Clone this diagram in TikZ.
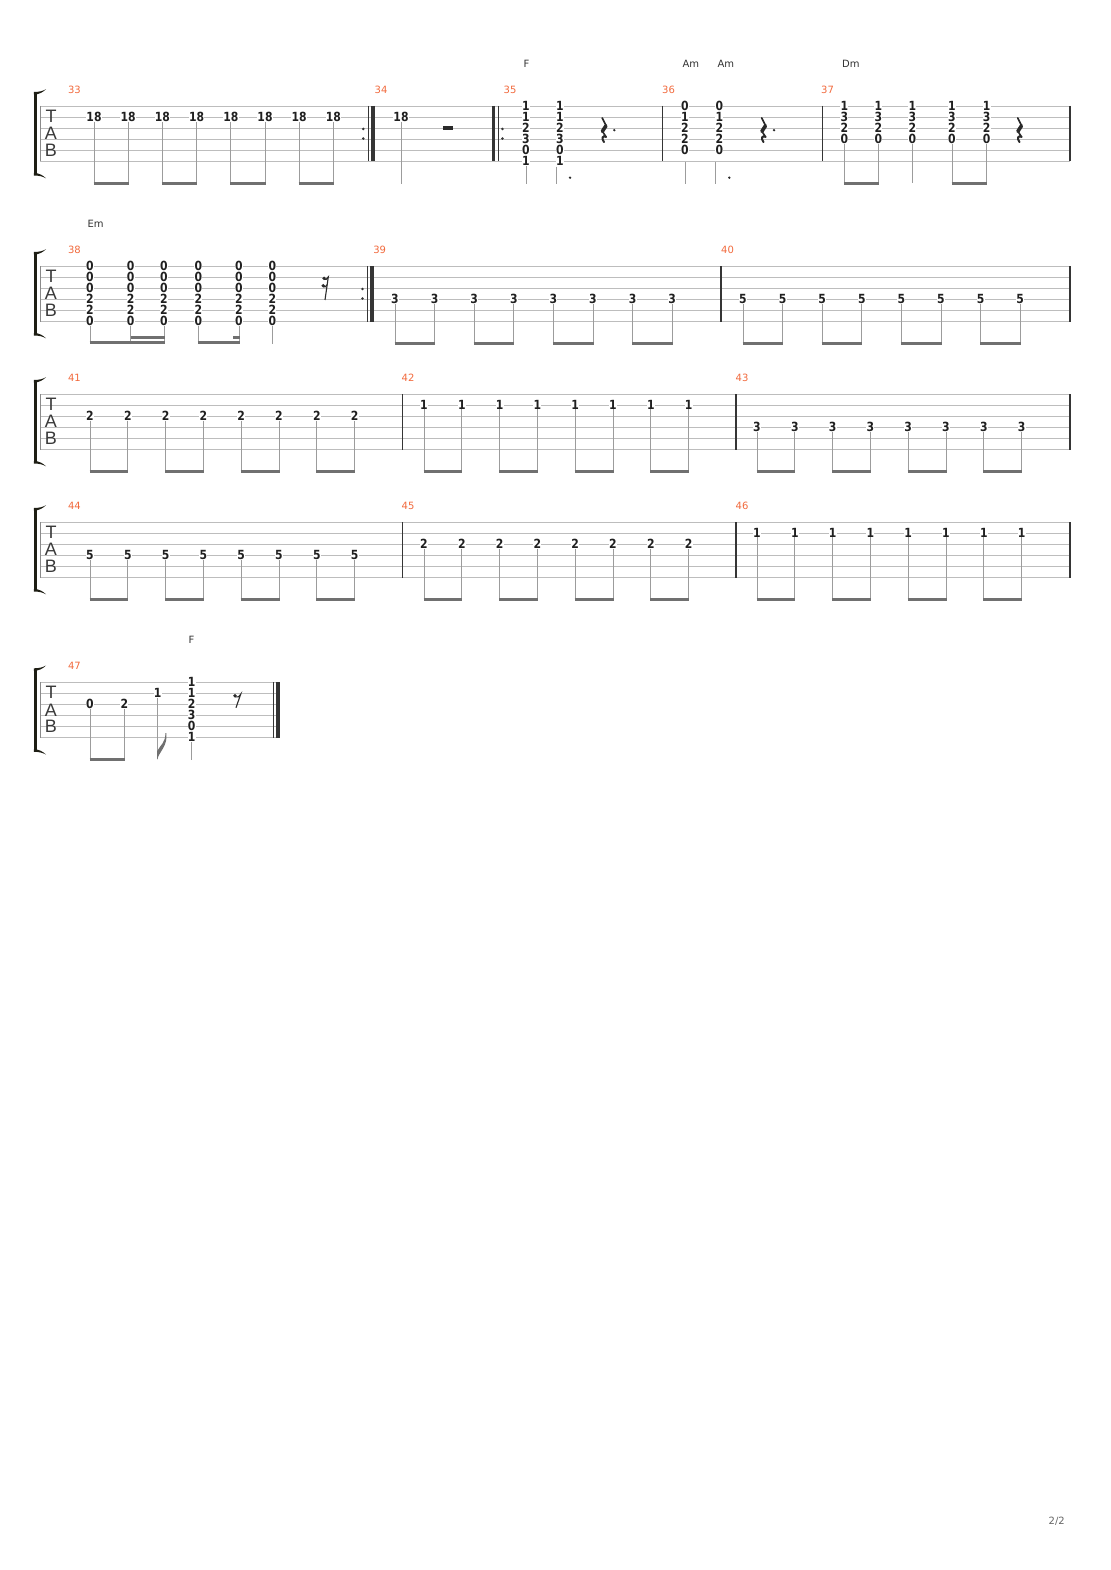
\documentclass[tikz,border=0pt]{standalone}
\usepackage{fontspec}
\setmainfont{DejaVu Sans}
\newfontfamily\fretfont{DejaVu Sans}[FakeStretch=0.86]
\newfontfamily\tabfont{Liberation Sans}
\definecolor{strc}{HTML}{BDBDBD}
\definecolor{leftc}{HTML}{8A8A8A}
\definecolor{barc}{HTML}{353535}
\definecolor{stemc}{HTML}{9C9C9C}
\definecolor{beamc}{HTML}{707070}
\definecolor{fretc}{HTML}{202020}
\definecolor{mnumc}{HTML}{F26A3D}
\definecolor{chordc}{HTML}{333333}
\definecolor{tabc}{HTML}{3A3A3A}
\definecolor{brc}{HTML}{1E1E14}
\definecolor{restcol}{HTML}{2A2A2A}
\definecolor{pagec}{HTML}{666666}
\tikzset{
 strline/.style={draw=strc, line width=0.8pt},
 leftline/.style={draw=leftc, line width=0.9pt},
 barline/.style={draw=barc, line width=1.1pt},
 thickbar/.style={draw=barc, line width=3.8pt},
 stem/.style={draw=stemc, line width=1pt},
 beam/.style={draw=beamc, line width=2.8pt},
 fret/.style={font=\fretfont\bfseries\fontsize{12.6}{12.6}\selectfont, text=fretc, fill=white, inner sep=0.3pt, outer sep=0pt},
 mnum/.style={font=\fontsize{10}{10}\selectfont, text=mnumc, inner sep=0pt},
 chordn/.style={font=\fontsize{10}{10}\selectfont, text=chordc, inner sep=0pt, anchor=west},
 tabl/.style={font=\tabfont\fontsize{18}{18}\selectfont, text=tabc, inner sep=0pt},
 bracketline/.style={draw=brc, line width=2.7pt},
 restthin/.style={draw=restcol, line width=1.6pt, line cap=round},
 restthick/.style={draw=restcol, line width=3.6pt, line cap=round},
 pagen/.style={font=\fontsize{10}{10}\selectfont, text=pagec, inner sep=0pt},
}
% staff: #1 top, #2 left x, #3 right x, #4 name
\newcommand\staffat[4]{%
 \foreach \k in {0,...,5} {\draw[strline] (#2,{#1+11.1*\k}) -- (#3,{#1+11.1*\k});}
 \draw[leftline] (#2,#1) -- (#2,{#1+55.5});
 \node[tabl] (#4T) at (51,{#1+10.3}) {T};
 \node[tabl] (#4A) at (51,{#1+27.7}) {A};
 \node[tabl] (#4B) at (51,{#1+44.5}) {B};
 \draw[bracketline] (35.3,{#1-13}) -- (35.3,{#1+68.5});
 \fill[brc] (33.95,{#1-14}) .. controls (39,{#1-14}) and (43,{#1-15}) .. (46,{#1-16.8}) .. controls (43,{#1-13.8}) and (39,{#1-11.5}) .. (33.95,{#1-11.5}) -- cycle;
 \fill[brc] (33.95,{#1+69.5}) .. controls (39,{#1+69.5}) and (43,{#1+70.5}) .. (46,{#1+72.3}) .. controls (43,{#1+69.3}) and (39,{#1+67}) .. (33.95,{#1+67}) -- cycle;
}
\newcommand\barat[2]{\draw[barline] (#2,#1) -- (#2,{#1+55.5});}
\newcommand\thickbarat[2]{\draw[thickbar] (#2,#1) -- (#2,{#1+55.5});}
\newcommand\repdots[2]{\fill[barc] (#2,{#1+27.75-4.8}) circle (1.4); \fill[barc] (#2,{#1+27.75+4.8}) circle (1.4);}
% eight beamed eighth notes: #1 top, #2 string, #3 fret, #4 first x, #5 step, #6 name
\newcommand\erow[6]{%
 \foreach \i in {0,...,7} {%
  \pgfmathsetmacro\xx{#4+#5*\i}
  \node[fret] (#6-\i) at (\xx,{#1+11.1*(#2-1)-0.5}) {#3};
  \draw[stem] (#6-\i.south) -- (\xx,{#1+77.3});
 }
 \foreach \i in {0,2,4,6} {%
  \pgfmathsetmacro\xa{#4+#5*\i}
  \pgfmathsetmacro\xb{#4+#5*(\i+1)}
  \draw[beam] ({\xa-0.5},{#1+77.3}) -- ({\xb+0.5},{#1+77.3});
 }
}
% chord: #1 top, #2 x, #3 list string/fret, #4 name
\newcommand\chordat[4]{\foreach \s/\f in {#3} {\node[fret] (#4-\s) at (#2,{#1+11.1*(\s-1)-0.5}) {\f};}}
\newcommand\qrest[2]{%
 \begin{scope}[shift={(#1,#2)}]
  \draw[restthin] (-1.8,0.6) -- (2,8.2);
  \draw[restthick] (1.9,8.6) -- (-1.6,14);
  \draw[restthin] (-1.6,14) -- (2.1,19.6);
  \draw[draw=restcol, line width=2pt, line cap=round] (2.1,19.6) .. controls (-1.2,17.6) and (-3,21) .. (0,24.8);
 \end{scope}}
\newcommand\erest[2]{%
 \begin{scope}[shift={(#1,#2)}]
  \fill[restcol] (-2,1.8) circle (1.9);
  \draw[draw=restcol, line width=1.1pt] (-2,2.8) .. controls (0,3.8) and (2,3) .. (3.7,0.2) -- (-1,13.7);
 \end{scope}}
\newcommand\srest[2]{%
 \begin{scope}[shift={(#1,#2)}]
  \fill[restcol] (-2,1.6) circle (1.8);
  \fill[restcol] (-2.8,9) circle (1.8);
  \draw[draw=restcol, line width=1.1pt] (-2,2.6) .. controls (-0.5,3.3) and (1,2.6) .. (2.3,0.2) -- (-1,23.3);
  \draw[draw=restcol, line width=1.1pt] (-2.8,10) .. controls (-1.2,10.7) and (0,10) .. (1.2,8);
 \end{scope}}
\begin{document}
\begin{tikzpicture}[x=1pt,y=-1pt]
\fill[white] (0,0) rectangle (1110,1570);
\useasboundingbox (0,0) rectangle (1110,1570);

%%%%%%%%%%%%%%%% system 1 (top 106)
\staffat{106}{40}{1070}{s1}
\node[mnum] (m33) at (74.5,90) {33};
\erow{106}{2}{18}{94}{34.2}{n33}
\repdots{106}{363.3}
\barat{106}{368.5}
\thickbarat{106}{373.2}
\node[mnum] (m34) at (381,90) {34};
\node[fret] (n34) at (401,{106+11.1-0.5}) {18};
\draw[stem] (n34.south) -- (401,184.5);
\fill[restcol] (443.3,126) rectangle (452.7,129.6);
\thickbarat{106}{493.5}
\barat{106}{498.6}
\repdots{106}{502.4}
\node[mnum] (m35) at (510,90) {35};
\node[chordn] (cF1) at (523.3,64) {F};
\chordat{106}{526}{1/1,2/1,3/2,4/3,5/0,6/1}{c35a}
\chordat{106}{560}{1/1,2/1,3/2,4/3,5/0,6/1}{c35b}
\draw[stem] (c35a-6.south) -- (526,184.5);
\draw[stem] (556.7,166.6) -- (556.7,184.5);
\fill[restcol] (570,177.7) circle (1.3);
\qrest{604}{117.3}
\fill[restcol] (614.3,130.2) circle (1.3);
\barat{106}{662.7}
\node[mnum] (m36) at (668.5,90) {36};
\node[chordn] (cAm1) at (682.3,64) {Am};
\node[chordn] (cAm2) at (717.3,64) {Am};
\chordat{106}{685}{1/0,2/1,3/2,4/2,5/0}{c36a}
\chordat{106}{719.3}{1/0,2/1,3/2,4/2,5/0}{c36b}
\draw[stem] (685,161.7) -- (685,184.5);
\draw[stem] (715.7,161.7) -- (715.7,184.5);
\fill[restcol] (729.3,177.7) circle (1.3);
\qrest{763.5}{117.3}
\fill[restcol] (774,130.2) circle (1.3);
\barat{106}{822.3}
\node[mnum] (m37) at (827.5,90) {37};
\node[chordn] (cDm) at (842,64) {Dm};
\foreach \xx [count=\j] in {844.3,878.3,912.3,952,986.7} {
 \chordat{106}{\xx}{1/1,2/3,3/2,4/0}{c37-\j}
 \draw[stem] (c37-\j-4.south) -- (\xx,183.3);
}
\draw[beam] (843.8,183.3) -- (878.8,183.3);
\draw[beam] (951.5,183.3) -- (987.2,183.3);
\qrest{1019.5}{117.3}
\barat{106}{1070}

%%%%%%%%%%%%%%%% system 2 (top 266)
\staffat{266}{40}{1070}{s2}
\node[chordn] (cEm) at (87.3,224) {Em};
\node[mnum] (m38) at (74.5,250) {38};
\foreach \xx [count=\j] in {90,130.7,164,198.3,239,272.3} {
 \chordat{266}{\xx}{1/0,2/0,3/0,4/2,5/2,6/0}{c38-\j}
 \draw[stem] (c38-\j-6.south) -- (\xx,343.8);
}
\draw[beam] (89.5,342.7) -- (164.5,342.7);
\draw[beam] (130.7,337.3) -- (164.5,337.3);
\draw[beam] (197.8,342.7) -- (239.5,342.7);
\draw[beam] (233.3,337.3) -- (239.5,337.3);
\srest{326}{276.7}
\repdots{266}{362.5}
\barat{266}{367.5}
\thickbarat{266}{371.9}
\node[mnum] (m39) at (379.7,250) {39};
\erow{266}{4}{3}{395}{39.6}{n39}
\barat{266}{721}
\node[mnum] (m40) at (727.5,250) {40};
\erow{266}{4}{5}{743}{39.6}{n40}
\barat{266}{1070}

%%%%%%%%%%%%%%%% system 3 (top 394)
\staffat{394}{40}{1070}{s3}
\node[mnum] (m41) at (74.5,378) {41};
\erow{394}{3}{2}{90}{37.8}{n41}
\barat{394}{402.3}
\node[mnum] (m42) at (408,378) {42};
\erow{394}{2}{1}{424}{37.8}{n42}
\barat{394}{736}
\node[mnum] (m43) at (742,378) {43};
\erow{394}{4}{3}{757}{37.8}{n43}
\barat{394}{1070}

%%%%%%%%%%%%%%%% system 4 (top 522)
\staffat{522}{40}{1070}{s4}
\node[mnum] (m44) at (74.5,506) {44};
\erow{522}{4}{5}{90}{37.8}{n44}
\barat{522}{402.3}
\node[mnum] (m45) at (408,506) {45};
\erow{522}{3}{2}{424}{37.8}{n45}
\barat{522}{736}
\node[mnum] (m46) at (742,506) {46};
\erow{522}{2}{1}{757}{37.8}{n46}
\barat{522}{1070}

%%%%%%%%%%%%%%%% system 5 (top 682.3)
\staffat{682.3}{40}{280}{s5}
\node[mnum] (m47) at (74.5,666) {47};
\node[chordn] (cF2) at (188.5,640) {F};
\node[fret] (n47a) at (90,{682.3+22.2-0.5}) {0};
\node[fret] (n47b) at (124.3,{682.3+22.2-0.5}) {2};
\draw[stem] (n47a.south) -- (90,759.6);
\draw[stem] (n47b.south) -- (124.3,759.6);
\draw[beam] (89.5,759.6) -- (124.8,759.6);
\node[fret] (n47c) at (157.7,{682.3+11.1-0.5}) {1};
\draw[stem] (n47c.south) -- (157.7,759);
\fill[beamc] (157.2,759.5) .. controls (159.5,751) and (168,746) .. (166.3,733) -- (165.3,733.3) .. controls (165.8,742) and (160.5,745) .. (157.2,751) -- cycle;
\chordat{682.3}{191.7}{1/1,2/1,3/2,4/3,5/0,6/1}{c47}
\draw[stem] (c47-6.south) -- (191.7,759.6);
\erest{237}{694}
\barat{682.3}{273.3}
\thickbarat{682.3}{278}

\node[pagen] (pg) at (1056.7,1521.5) {2/2};
\end{tikzpicture}
\end{document}
